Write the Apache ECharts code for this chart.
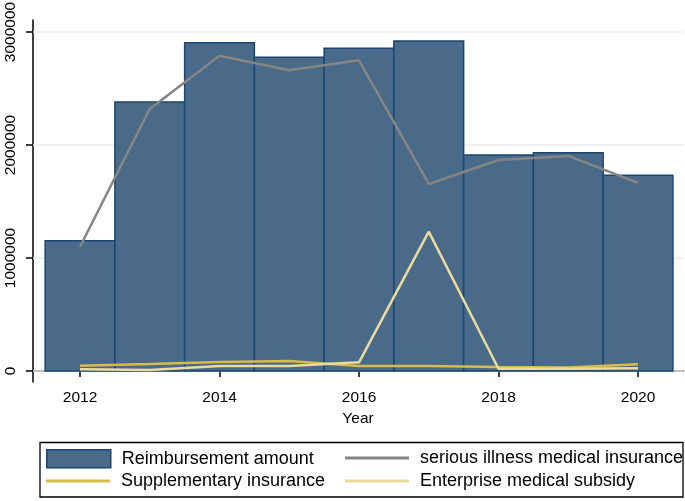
<!DOCTYPE html>
<html>
<head>
<meta charset="utf-8">
<script src="https://cdn.jsdelivr.net/npm/echarts@6/dist/echarts.min.js"></script>
<style>html,body{margin:0;padding:0;background:#fff}#c{width:685px;height:501px}</style>
</head>
<body>
<div id="c"></div>
<script>
const years = [2012, 2013, 2014, 2015, 2016, 2017, 2018, 2019, 2020];
const reimbursement = [1153000, 2381000, 2905000, 2776000, 2856000, 2920000, 1912000, 1932000, 1732000];
const seriousIllness = [1100000, 2319000, 2790000, 2661000, 2749000, 1655000, 1867000, 1903000, 1664000];
const supplementary = [47000, 62000, 80000, 88000, 44000, 44000, 35000, 30000, 59000];
const enterprise = [15000, 9000, 44000, 45000, 77000, 1233000, 20000, 20000, 24000];
const xTicks = [2012, 2014, 2016, 2018, 2020];
const yTicks = [0, 1000000, 2000000, 3000000];
const seriesNames = ['Reimbursement amount', 'serious illness medical insurance', 'Supplementary insurance', 'Enterprise medical subsidy'];

const FONT = "'Liberation Sans', Arial, sans-serif";
const BAR_FILL = '#4a6a8a', BAR_EDGE = '#1a4670';
const C_GRAY = '#858585', C_SUP = '#d9bb4c', C_ENT = '#ebdc9e';

const chart = echarts.init(document.getElementById('c'));
const pair = arr => years.map((y, i) => [y, arr[i]]);

function legendAt(left, top, name, icon, w, h, style) {
  return {
    left: left, top: top, orient: 'horizontal', padding: 0,
    itemWidth: w, itemHeight: h, selectedMode: false,
    textStyle: { fontFamily: FONT, fontSize: 18, color: '#000', padding: [0, 0, 0, 6] },
    data: [{ name: name, icon: icon, itemStyle: style }]
  };
}

chart.setOption({
  animation: false,
  backgroundColor: '#fff',
  grid: { left: 33, top: 20, right: 2, bottom: 119, outerBoundsMode: 'none', containLabel: false },
  xAxis: {
    type: 'value', min: 2011.326, max: 2020.645,
    name: 'Year', nameLocation: 'middle', nameGap: 28,
    nameTextStyle: { fontFamily: FONT, fontSize: 15.5, color: '#000' },
    axisLine: { lineStyle: { color: '#000', width: 1.5 } },
    axisTick: { length: 6, lineStyle: { color: '#000', width: 1.5 }, customValues: xTicks },
    axisLabel: { fontFamily: FONT, fontSize: 15.5, color: '#000', margin: 8, customValues: xTicks, formatter: v => String(v) },
    splitLine: { show: false }
  },
  yAxis: {
    type: 'value', min: -97300, max: 3106000,
    axisLine: { show: true, lineStyle: { color: '#000', width: 1.5 } },
    axisTick: { show: true, length: 7, lineStyle: { color: '#000', width: 1.5 }, customValues: yTicks },
    axisLabel: { fontFamily: FONT, fontSize: 15.5, color: '#000', rotate: 90, margin: 14, customValues: yTicks, formatter: v => String(v) },
    splitLine: { show: false }
  },
  legend: [
    legendAt(46, 449, seriesNames[0], 'rect', 64, 18, { color: BAR_FILL, borderColor: BAR_EDGE, borderWidth: 1.5 }),
    legendAt(345, 449, seriesNames[1], 'rect', 64, 3, { color: C_GRAY }),
    legendAt(46, 472, seriesNames[2], 'rect', 64, 3, { color: C_SUP }),
    legendAt(345, 472, seriesNames[3], 'rect', 64, 3, { color: C_ENT })
  ],
  graphic: [{
    type: 'rect', shape: { x: 40, y: 442.5, width: 643, height: 54.5 },
    style: { fill: 'none', stroke: '#000', lineWidth: 1.3 }, z: 100
  }],
  series: [
    {
      type: 'line', name: '_grid', data: [], silent: true, z: 0,
      markLine: {
        silent: true, symbol: 'none', label: { show: false }, z: 1,
        lineStyle: { color: '#e8f0f3', width: 1.5, type: 'solid' },
        data: yTicks.map(v => ({ yAxis: v }))
      }
    },
    {
      type: 'custom', name: seriesNames[0], z: 10,
      itemStyle: { color: BAR_FILL, borderColor: BAR_EDGE, borderWidth: 1.5 },
      data: pair(reimbursement),
      renderItem: function (params, api) {
        const x = api.value(0), v = api.value(1);
        const p0 = api.coord([x - 0.5, v]);
        const p1 = api.coord([x + 0.5, 0]);
        return {
          type: 'rect',
          shape: { x: p0[0], y: p0[1], width: p1[0] - p0[0], height: p1[1] - p0[1] },
          style: { fill: BAR_FILL, stroke: BAR_EDGE, lineWidth: 1.5 }
        };
      }
    },
    { type: 'line', name: seriesNames[1], z: 11, data: pair(seriousIllness), showSymbol: false, symbol: 'none', color: C_GRAY, lineStyle: { color: C_GRAY, width: 2.5 } },
    { type: 'line', name: seriesNames[2], z: 12, data: pair(supplementary), showSymbol: false, symbol: 'none', color: C_SUP, lineStyle: { color: C_SUP, width: 2.5 } },
    { type: 'line', name: seriesNames[3], z: 13, data: pair(enterprise), showSymbol: false, symbol: 'none', color: C_ENT, lineStyle: { color: C_ENT, width: 2.5 } }
  ]
});
</script>
</body>
</html>
